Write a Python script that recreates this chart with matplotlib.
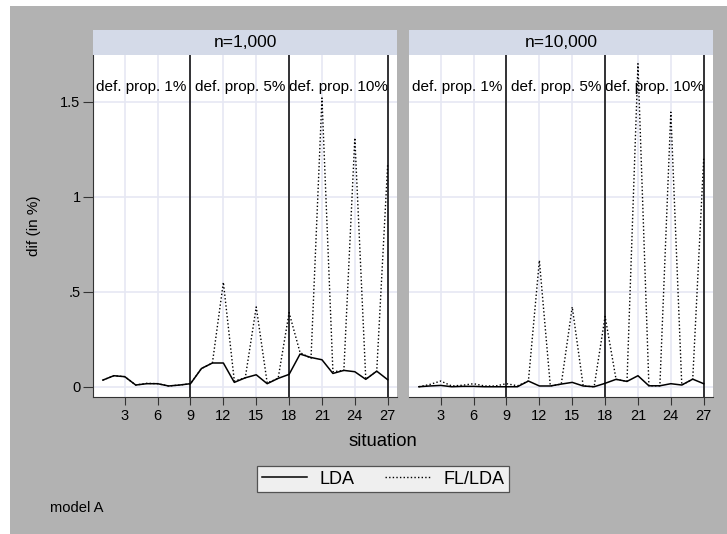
import matplotlib.pyplot as plt
from matplotlib.patches import Rectangle
from matplotlib.lines import Line2D

plt.rcParams['font.family'] = ['Liberation Sans', 'DejaVu Sans']

# situations 1..27, values
situation = list(range(1, 28))
panels = ['n=1,000', 'n=10,000']

lda_n1000 = [0.035, 0.058, 0.053, 0.009, 0.016, 0.016, 0.004, 0.009, 0.016,
             0.096, 0.125, 0.125, 0.023, 0.047, 0.063, 0.016, 0.044, 0.065,
             0.172, 0.154, 0.142, 0.070, 0.086, 0.079, 0.039, 0.082, 0.037]
fl_n1000 = [0.035, 0.058, 0.053, 0.009, 0.018, 0.016, 0.004, 0.009, 0.016,
            0.096, 0.125, 0.550, 0.030, 0.047, 0.420, 0.020, 0.044, 0.390,
            0.180, 0.149, 1.520, 0.079, 0.086, 1.310, 0.040, 0.082, 1.170]

lda_n10000 = [0.0, 0.004, 0.007, 0.0, 0.002, 0.002, 0.0, 0.0, 0.0,
              0.0, 0.030, 0.004, 0.004, 0.014, 0.023, 0.004, 0.0, 0.018,
              0.039, 0.028, 0.058, 0.005, 0.005, 0.016, 0.009, 0.040, 0.016]
fl_n10000 = [0.0, 0.012, 0.030, 0.004, 0.008, 0.016, 0.004, 0.004, 0.016,
             0.005, 0.030, 0.665, 0.004, 0.014, 0.420, 0.004, 0.0, 0.370,
             0.039, 0.028, 1.700, 0.005, 0.005, 1.445, 0.009, 0.040, 1.200]

blocks = ['def. prop. 1%', 'def. prop. 5%', 'def. prop. 10%']
block_centers = [4.5, 13.5, 22.5]
block_edges = [9, 18, 27]
xticks = [3, 6, 9, 12, 15, 18, 21, 24, 27]
yticks = [0, 0.5, 1, 1.5]
yticklabels = ['0', '.5', '1', '1.5']

W, H = 727, 534
fig = plt.figure(figsize=(W / 100, H / 100), dpi=100)
fig.patch.set_facecolor('white')
fig.patches.append(Rectangle((10 / W, 0), 1, 1 - 6 / H, transform=fig.transFigure,
                             facecolor='#b2b2b2', edgecolor='none', zorder=-10))

grid_col = '#e6e8f3'
strip_col = '#d4dae8'
lefts = [93, 409]
pw = 304
top, bottom = 55, 397

series = [(lda_n1000, fl_n1000), (lda_n10000, fl_n10000)]
for i, (lda, fl) in enumerate(series):
    ax = fig.add_axes([lefts[i] / W, 1 - bottom / H, pw / W, (bottom - top) / H])
    ax.set_facecolor('white')
    ax.set_xlim(0.1, 27.85)
    ax.set_ylim(-0.054, 1.746)
    for t in xticks:
        ax.axvline(t, color=grid_col, lw=1.2, zorder=0)
    for t in yticks:
        ax.axhline(t, color=grid_col, lw=1.2, zorder=0)
    for e in block_edges:
        ax.axvline(e, color='black', lw=1.1, zorder=3)
    ax.plot(situation, lda, color='black', lw=1.1, zorder=4)
    ax.plot(situation, fl, color='black', lw=1.0, linestyle=(0, (1, 1.6)), zorder=4)
    for c, b in zip(block_centers, blocks):
        ax.text(c, 1.575, b, ha='center', va='center', fontsize=11, zorder=5)
    for s in ['top', 'right']:
        ax.spines[s].set_visible(False)
    ax.spines['bottom'].set_color('#333333')
    ax.set_xticks(xticks)
    ax.set_xticklabels([str(t) for t in xticks], fontsize=10.5)
    ax.tick_params(axis='x', length=6, color='#333333', pad=3)
    if i == 0:
        ax.spines['left'].set_color('#333333')
        ax.set_yticks(yticks)
        ax.set_yticklabels(yticklabels, fontsize=10.5)
        ax.tick_params(axis='y', length=7, color='#333333', pad=2)
        ax.set_ylabel('dif (in %)', fontsize=11, labelpad=14)
    else:
        ax.spines['left'].set_visible(False)
        ax.set_yticks([])
    # strip title
    sax = fig.add_axes([lefts[i] / W, 1 - top / H, pw / W, 25 / H])
    sax.set_facecolor(strip_col)
    sax.set_xticks([])
    sax.set_yticks([])
    for s in sax.spines.values():
        s.set_visible(False)
    sax.text(0.5, 0.5, panels[i], ha='center', va='center', fontsize=12.5,
             transform=sax.transAxes)

fig.text(383 / W, 1 - 441 / H, 'situation', ha='center', va='center', fontsize=13.3)

handles = [Line2D([], [], color='black', lw=1.1),
           Line2D([], [], color='black', lw=1.0, linestyle=(0, (1, 1.6)))]
leg = fig.legend(handles, ['LDA', 'FL/LDA'], loc='center', ncol=2,
                 bbox_to_anchor=(383 / W, 1 - 479 / H), fontsize=13,
                 frameon=True, fancybox=False, handlelength=2.5, columnspacing=1.7,
                 borderpad=0.25, handletextpad=0.7, borderaxespad=0)
leg.get_frame().set_edgecolor('#333333')
leg.get_frame().set_linewidth(0.9)

fig.text(50 / W, 1 - 508 / H, 'model A', ha='left', va='center', fontsize=10.6)

fig.savefig('out.png', dpi=100)
